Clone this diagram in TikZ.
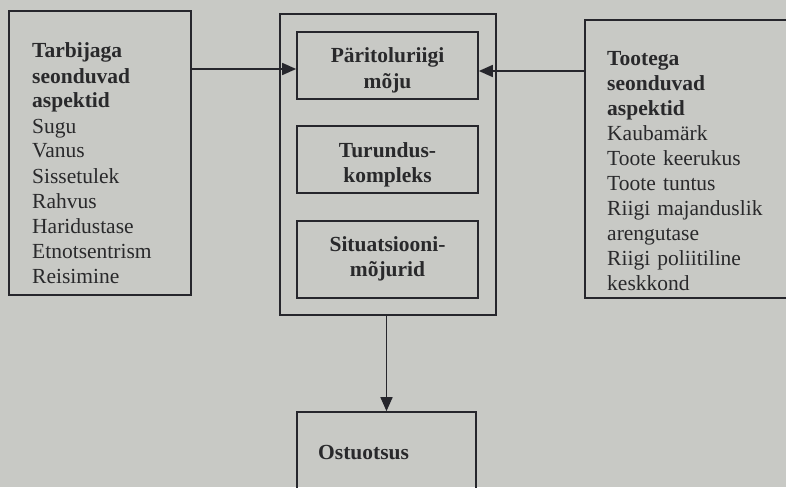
\documentclass[tikz,border=0pt]{standalone}
\usepackage{fontspec}
\setmainfont{Liberation Serif}
\usetikzlibrary{arrows.meta}
\definecolor{paper}{HTML}{C8C9C5}
\definecolor{ink}{HTML}{26262C}
\definecolor{txt}{HTML}{29292B}
\begin{document}
\begin{tikzpicture}[x=1pt,y=-1pt,
  box/.style={draw=ink,line width=1.7pt,inner sep=0pt},
  lbl/.style={text=txt,font=\fontsize{21.5}{25}\selectfont,inner sep=0pt},
  arr/.style={draw=ink,line width=1.7pt,-{Triangle[length=14pt,width=12pt]}}]
\useasboundingbox (0,0) rectangle (786,487);
\fill[paper] (0,0) rectangle (786,487);
\clip (0,0) rectangle (786,487);

% frames
\node[box,minimum width=182pt,minimum height=284pt] (lbox) at (100,153) {};
\node[box,minimum width=216pt,minimum height=301pt] (outer) at (388,164.5) {};
\node[box,minimum width=181pt,minimum height=67pt] (pari) at (387.5,65.5) {};
\node[box,minimum width=181pt,minimum height=67pt] (turu) at (387.5,159.5) {};
\node[box,minimum width=181pt,minimum height=77pt] (situ) at (387.5,259.5) {};
\node[box,minimum width=230pt,minimum height=278pt] (rbox) at (700,159) {};
\node[box,minimum width=179pt,minimum height=118pt] (ost) at (386.5,471) {};

% texts
\node[lbl,anchor=base west,text width=170pt,align=left] (ltxt) at (32,58)
  {\textbf{Tarbijaga}\\\textbf{seonduvad}\\\textbf{aspektid}\\Sugu\\Vanus\\Sissetulek\\Rahvus\\Haridustase\\Etnotsentrism\\Reisimine};
\node[lbl,anchor=base,text width=181pt,align=center] (paritxt) at (387.5,63)
  {\textbf{Päritoluriigi}\\\textbf{mõju}};
\node[lbl,anchor=base,text width=181pt,align=center] (turutxt) at (387.5,157)
  {\textbf{Turundus-}\\\textbf{kompleks}};
\node[lbl,anchor=base,text width=181pt,align=center] (situtxt) at (387.5,251.5)
  {\textbf{Situatsiooni-}\\\textbf{mõjurid}};
\node[lbl,anchor=base west,text width=200pt,align=left] (rtxt) at (607,65)
  {\textbf{Tootega}\\\textbf{seonduvad}\\\textbf{aspektid}\\Kaubamärk\\Toote keerukus\\Toote tuntus\\Riigi majanduslik\\arengutase\\Riigi poliitiline\\keskkond};
\node[lbl,anchor=base west] (osttxt) at (318,459) {\textbf{Ostuotsus}};

% connectors
\draw[arr] (lbox.east |- 0,69) -- (pari.west |- 0,69);
\draw[arr] (rbox.west |- 0,71) -- (pari.east |- 0,71);
\draw[arr] (ost.north |- outer.south) -- (ost.north);
\end{tikzpicture}
\end{document}
